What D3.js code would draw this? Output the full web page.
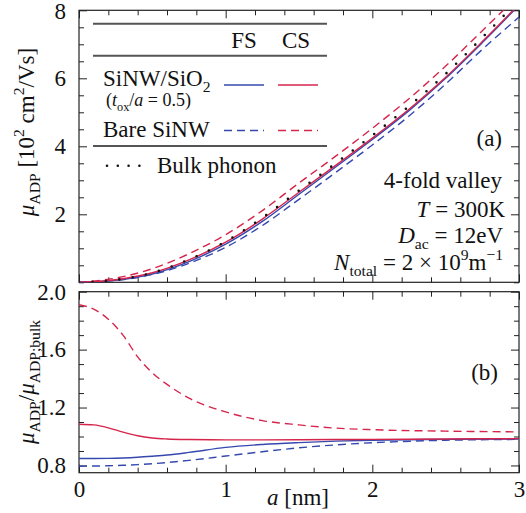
<html><head><meta charset="utf-8">
<style>
  body { margin: 0; background: #fff; }
  svg text { font-family: "Liberation Serif", "Times New Roman", serif; fill: #111; }
</style>
</head><body><div id="chart"></div>
<script src="https://cdn.jsdelivr.net/npm/d3@7"></script>
<script>

// panel (a): mobility vs radius
var aGrid      = [0, 0.25, 0.5, 0.75, 1.0, 1.25, 1.5, 1.75, 2.0, 2.25, 2.5, 2.75, 3.0];
var muBulk     = [0, 0.07, 0.28, 0.67, 1.20, 1.90, 2.70, 3.50, 4.32, 5.18, 6.13, 7.20, 8.30];
var muCSOxide  = [0, 0.075, 0.28, 0.66, 1.18, 1.86, 2.65, 3.44, 4.24, 5.09, 6.03, 7.08, 8.18];
var muFSOxide  = [0, 0.06, 0.245, 0.61, 1.12, 1.79, 2.59, 3.39, 4.20, 5.05, 6.00, 7.05, 8.15];
var muCSBare   = [0, 0.124, 0.40, 0.84, 1.40, 2.11, 2.92, 3.71, 4.53, 5.40, 6.36, 7.40, 8.45];
var muFSBare   = [0, 0.056, 0.23, 0.56, 1.03, 1.67, 2.44, 3.23, 4.04, 4.89, 5.83, 6.85, 7.80];

// panel (b): ratio to bulk phonon mobility
var rGrid      = [0, 0.1, 0.2, 0.3, 0.4, 0.5, 0.6, 0.75, 1.0, 1.25, 1.5, 1.75, 2.0, 2.5, 3.0];
var rCSBare    = [1.91, 1.88, 1.81, 1.70, 1.55, 1.44, 1.36, 1.265, 1.17, 1.11, 1.08, 1.058, 1.047, 1.037, 1.032];
var rCSOxide   = [1.085, 1.08, 1.06, 1.03, 1.005, 0.99, 0.983, 0.979, 0.977, 0.977, 0.978, 0.979, 0.98, 0.983, 0.985];
var rFSOxide   = [0.848, 0.848, 0.849, 0.852, 0.857, 0.864, 0.872, 0.89, 0.925, 0.945, 0.958, 0.968, 0.974, 0.98, 0.983];
var rFSBare    = [0.795, 0.796, 0.798, 0.801, 0.806, 0.812, 0.82, 0.835, 0.865, 0.895, 0.922, 0.942, 0.957, 0.974, 0.98];

var xTicks  = [0, 1, 2, 3];
var yTicksA = [2, 4, 6, 8];
var yTicksB = [0.8, 1.2, 1.6, 2.0];

var blue = "#3548ae", red = "#d5254c", gray = "#555";
var W = 526, H = 513, FS = 23;

var svg = d3.select("#chart").append("svg").attr("width", W).attr("height", H);

var x = d3.scaleLinear().domain([0, 3]).range([79, 519]);
var yA = d3.scaleLinear().domain([0, 8]).range([282.3, 10.3]);
var yB = d3.scaleLinear().domain([0.75, 2.0]).range([472.7, 291.7]);

// writes text with italic / sub / sup pieces
function rich(t, parts, size) {
  var cur = 0;
  parts.forEach(function (p) {
    var want = p.sub ? 0.26 * size : p.sup ? -0.42 * size : 0;
    var s = t.append("tspan").text(p.t);
    if (want !== cur) s.attr("dy", want - cur);
    cur = want;
    if (p.it) s.style("font-style", "italic");
    if (p.sub || p.sup) s.style("font-size", (size * 0.68) + "px");
  });
  return t;
}
function label(px, py, anchor, parts, size) {
  var t = svg.append("text").attr("x", px).attr("y", py)
    .attr("text-anchor", anchor).style("font-size", size + "px");
  return rich(t, parts, size);
}

function minorVals(lo, hi, step, majors) {
  var out = [];
  for (var v = lo; v <= hi + 1e-9; v += step) {
    var r = Math.round(v * 100) / 100;
    if (!majors.some(function (m) { return Math.abs(m - r) < 1e-6; })) out.push(r);
  }
  return out;
}

function frame(y, top, bottom, yMaj, yMin, labelsX, fmt) {
  var g = svg.append("g");
  var xMin = minorVals(0, 3, 0.2, xTicks);
  function add(axis, tr) {
    var a = g.append("g").attr("transform", tr).call(axis);
    a.select(".domain").remove();
    a.selectAll("line").attr("stroke", "#222").attr("stroke-width", 1);
    return a;
  }
  // x ticks, top + bottom
  add(d3.axisBottom(x).tickValues(xTicks).tickSize(-8).tickFormat(""), "translate(0," + bottom + ")");
  add(d3.axisBottom(x).tickValues(xMin).tickSize(-5).tickFormat(""), "translate(0," + bottom + ")");
  add(d3.axisTop(x).tickValues(xTicks).tickSize(-8).tickFormat(""), "translate(0," + top + ")");
  add(d3.axisTop(x).tickValues(xMin).tickSize(-5).tickFormat(""), "translate(0," + top + ")");
  // y ticks, left + right
  var left = add(d3.axisLeft(y).tickValues(yMaj).tickSize(-8).tickPadding(13).tickFormat(fmt), "translate(79,0)");
  left.selectAll("text").style("font-size", FS + "px").style("font-family", "Liberation Serif").attr("fill", "#111");
  add(d3.axisLeft(y).tickValues(yMin).tickSize(-5).tickFormat(""), "translate(79,0)");
  add(d3.axisRight(y).tickValues(yMaj).tickSize(-8).tickFormat(""), "translate(519,0)");
  add(d3.axisRight(y).tickValues(yMin).tickSize(-5).tickFormat(""), "translate(519,0)");
  g.append("rect").attr("x", 79).attr("y", top).attr("width", 440).attr("height", bottom - top)
    .attr("fill", "none").attr("stroke", "#222").attr("stroke-width", 1.2);
  if (labelsX) {
    var bx = add(d3.axisBottom(x).tickValues(xTicks).tickSize(0).tickPadding(8).tickFormat(d3.format("d")), "translate(0," + bottom + ")");
    bx.selectAll("text").style("font-size", FS + "px").style("font-family", "Liberation Serif").attr("fill", "#111");
  }
  return left;
}

var leftA = frame(yA, 10.3, 282.3, yTicksA, minorVals(0, 8, 0.5, yTicksA), false, d3.format("d"));
// keep the top "8" inside the picture
leftA.selectAll(".tick text").filter(function (d) { return d === 8; }).attr("dy", "0.36em");
frame(yB, 291.7, 472.7, yTicksB, minorVals(0.8, 2.0, 0.1, yTicksB), true, d3.format(".1f"));

svg.append("clipPath").attr("id", "clipA").append("rect")
  .attr("x", 79).attr("y", 10.3).attr("width", 440).attr("height", 272);
svg.append("clipPath").attr("id", "clipB").append("rect")
  .attr("x", 79).attr("y", 291.7).attr("width", 440).attr("height", 181);

function curve(grid, vals, y, clip, color, dash) {
  var line = d3.line().x(function (d, i) { return x(grid[i]); })
    .y(function (d) { return y(d); }).curve(d3.curveMonotoneX);
  svg.append("path").datum(vals).attr("d", line).attr("clip-path", "url(#" + clip + ")")
    .attr("fill", "none").attr("stroke", color).attr("stroke-width", 1.4)
    .attr("stroke-dasharray", dash || null);
}

// panel (a)
curve(aGrid, muCSBare, yA, "clipA", red, "8,5");
curve(aGrid, muFSBare, yA, "clipA", blue, "8,5");
curve(aGrid, muFSOxide, yA, "clipA", blue);
curve(aGrid, muCSOxide, yA, "clipA", red);
svg.append("path").datum(muBulk)
  .attr("d", d3.line().x(function (d, i) { return x(aGrid[i]); }).y(function (d) { return yA(d); }).curve(d3.curveMonotoneX))
  .attr("clip-path", "url(#clipA)").attr("fill", "none").attr("stroke", "#111")
  .attr("stroke-width", 2.6).attr("stroke-linecap", "round").attr("stroke-dasharray", "0,13.5");

// panel (b)
curve(rGrid, rCSBare, yB, "clipB", red, "8,5");
curve(rGrid, rFSBare, yB, "clipB", blue, "8,5");
curve(rGrid, rFSOxide, yB, "clipB", blue);
curve(rGrid, rCSOxide, yB, "clipB", red);

// legend
[23.7, 55.7, 146].forEach(function (ly) {
  svg.append("line").attr("x1", 93).attr("x2", 327).attr("y1", ly).attr("y2", ly)
    .attr("stroke", gray).attr("stroke-width", 2);
});
label(244, 48, "middle", [{ t: "FS" }], FS);
label(296, 48, "middle", [{ t: "CS" }], FS);
label(103, 86, "start", [{ t: "SiNW/SiO" }, { t: "2", sub: true }], FS);
label(106, 106, "start", [{ t: "(" }, { t: "t", it: true }, { t: "ox", sub: true }, { t: "/" }, { t: "a", it: true }, { t: " = 0.5)" }], 18);
label(103, 137, "start", [{ t: "Bare SiNW" }], FS);
label(157, 173, "start", [{ t: "Bulk phonon" }], FS);
function sample(x1, x2, ly, color, dash) {
  svg.append("line").attr("x1", x1).attr("x2", x2).attr("y1", ly).attr("y2", ly)
    .attr("stroke", color).attr("stroke-width", 1.4).attr("stroke-dasharray", dash || null);
}
sample(224, 264, 85, blue);
sample(278, 318, 85, red);
sample(224, 264, 130.5, blue, "8,5");
sample(278, 318, 130.5, red, "8,5");
svg.append("line").attr("x1", 107).attr("x2", 140).attr("y1", 165.7).attr("y2", 165.7)
  .attr("stroke", "#111").attr("stroke-width", 2.6).attr("stroke-linecap", "round").attr("stroke-dasharray", "0,10.8");

// annotations
label(502, 146, "end", [{ t: "(a)" }], FS);
label(502, 188, "end", [{ t: "4-fold valley" }], FS);
label(505, 217, "end", [{ t: "T", it: true }, { t: " = 300K" }], FS);
label(503, 243, "end", [{ t: "D", it: true }, { t: "ac", sub: true }, { t: " = 12eV" }], FS);
label(503, 270, "end", [{ t: "N", it: true }, { t: "total", sub: true }, { t: " = 2 × 10" }, { t: "9", sup: true }, { t: "m" }, { t: "−1", sup: true }], FS);
label(498, 380, "end", [{ t: "(b)" }], FS);

// axis titles
label(298, 505, "middle", [{ t: "a", it: true }, { t: " [nm]" }], FS);
label(0, 0, "middle", [{ t: "μ", it: true }, { t: "ADP", sub: true }, { t: " [10" }, { t: "2", sup: true }, { t: " cm" }, { t: "2", sup: true }, { t: "/Vs]" }], FS)
  .attr("transform", "translate(34,132) rotate(-90)");
label(0, 0, "middle", [{ t: "μ", it: true }, { t: "ADP", sub: true }, { t: "/" }, { t: "μ", it: true }, { t: "ADP;bulk", sub: true }], FS)
  .attr("transform", "translate(34,382) rotate(-90)");

</script>
</div></body></html>
